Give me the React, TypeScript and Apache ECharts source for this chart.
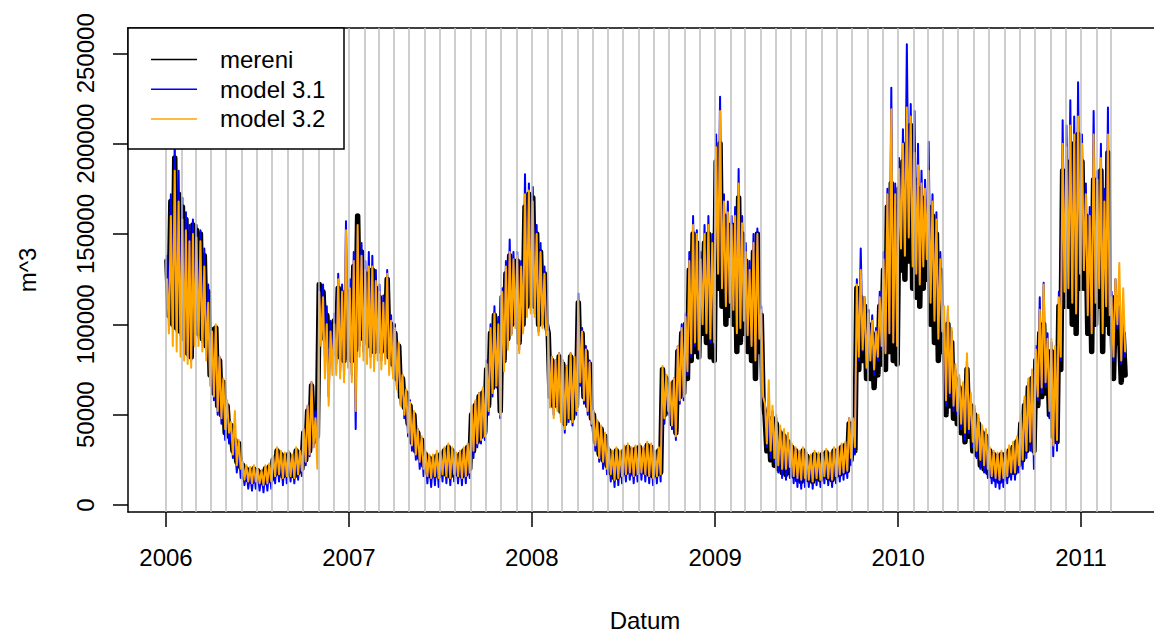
import React, { useEffect, useRef } from "react";
import * as echarts from "echarts";

const FIRST_YEAR = 2006;
const POINTS_PER_MONTH = 8;
const yearTicks = [2006, 2007, 2008, 2009, 2010, 2011];
const valueTicks = [0, 50000, 100000, 150000, 200000, 250000];
const seriesNames = ["mereni", "model 3.1", "model 3.2"];
const seriesColors = ["#000000", "#0000ff", "#ffa500"];

// thousands of m^3, 8 readings per month, Jan 2006 .. Mar 2011
const mereni = [
  135,105,168,100,192,98,172,96,
  165,92,158,84,150,82,155,98,
  152,95,150,92,138,88,118,72,
  97,62,98,55,80,50,68,40,
  55,38,44,30,36,24,34,21,
  22,15,20,14,19,13,20,14,
  19,13,18,12,20,13,21,14,
  25,17,30,18,28,16,27,17,
  28,17,26,16,30,18,28,20,
  40,25,52,30,66,35,50,38,
  122,98,118,92,105,88,100,86,
  102,84,120,82,116,80,118,86,
  118,80,132,86,160,96,140,92,
  128,90,125,88,130,85,120,90,
  115,85,110,86,125,82,100,78,
  95,70,88,60,70,54,62,45,
  55,35,50,30,40,26,36,22,
  28,18,26,16,25,17,27,16,
  28,18,30,17,32,16,30,18,
  27,17,28,16,30,17,32,20,
  50,30,55,35,60,38,62,40,
  75,55,95,65,105,70,100,52,
  115,80,128,92,138,100,135,105,
  135,90,130,100,165,110,172,112,
  170,110,150,100,140,105,128,100,
  95,60,80,55,78,58,82,52,
  78,45,75,50,82,48,80,55,
  112,70,95,60,85,55,78,48,
  50,35,45,28,42,25,38,22,
  30,18,28,15,30,16,28,17,
  30,18,32,19,30,17,31,18,
  32,19,30,18,33,17,32,16,
  28,17,30,18,75,50,70,55,
  65,45,68,40,85,60,95,62,
  100,70,130,80,150,85,145,82,
  130,95,145,90,150,82,140,80,
  190,120,200,110,160,100,155,105,
  150,100,155,85,170,90,150,95,
  135,85,125,80,140,70,150,85,
  105,55,50,30,45,25,48,22,
  45,20,40,18,38,17,35,18,
  32,16,30,14,28,13,30,14,
  27,14,26,13,28,15,27,14,
  28,16,29,15,27,14,30,16,
  30,17,32,18,33,19,45,25,
  45,30,120,75,115,80,110,70,
  100,70,95,65,90,72,110,78,
  130,75,165,85,178,80,165,78,
  175,130,190,125,200,135,210,120,
  180,115,175,110,170,120,165,125,
  165,100,160,90,150,80,130,85,
  95,50,100,55,90,48,70,45,
  65,40,60,35,75,38,55,30,
  50,28,45,22,40,20,38,18,
  30,16,28,14,27,13,28,14,
  28,16,30,18,32,18,35,22,
  45,25,55,30,65,35,70,30,
  80,55,95,60,100,62,85,50,
  85,38,80,35,110,75,185,110,
  180,110,190,100,200,95,205,120,
  190,120,160,95,150,85,180,100,
  170,110,185,85,160,100,195,95,
  110,70,115,90,100,68,95,72,
];

const model31 = [
  138,108,172,98,202,96,185,94,
  170,90,162,82,155,80,158,96,
  155,93,152,90,142,86,122,70,
  95,58,96,50,82,45,66,36,
  56,34,42,26,34,18,32,15,
  22,11,20,9,18,8,20,9,
  19,8,18,7,20,8,21,9,
  26,12,31,13,29,11,28,12,
  29,13,27,12,31,14,29,16,
  42,22,55,27,68,32,52,35,
  120,92,122,82,110,60,102,78,
  106,78,128,74,122,72,157,80,
  125,72,140,42,150,88,145,85,
  135,85,140,82,138,80,130,86,
  122,80,116,82,130,76,105,72,
  100,66,86,56,72,48,60,38,
  58,30,50,25,42,20,36,16,
  29,12,27,10,26,11,28,10,
  29,13,31,12,33,11,31,13,
  28,12,29,11,31,12,33,15,
  52,26,57,32,62,34,64,36,
  80,50,100,60,110,65,104,48,
  120,78,135,88,147,95,140,100,
  140,86,135,96,183,106,178,108,
  176,106,155,96,145,100,132,96,
  98,56,82,50,80,54,84,48,
  80,40,77,46,84,44,82,50,
  117,66,98,56,88,50,80,44,
  52,30,46,24,43,20,39,17,
  31,13,29,10,31,11,29,12,
  31,13,33,14,31,12,32,13,
  33,14,31,13,34,12,33,11,
  29,12,31,13,73,45,72,50,
  67,42,70,36,88,56,100,58,
  106,72,140,82,160,88,152,85,
  140,100,155,96,160,90,150,88,
  205,130,226,122,172,112,168,115,
  160,110,165,96,186,100,160,105,
  145,95,135,90,150,82,153,95,
  110,60,55,32,50,26,52,24,
  48,18,42,15,40,14,38,15,
  33,12,31,10,29,9,31,10,
  28,10,27,9,29,11,28,10,
  29,12,30,11,28,10,31,12,
  31,13,33,14,34,15,48,22,
  48,28,125,80,142,85,115,75,
  108,80,105,72,98,80,118,86,
  140,85,175,95,231,90,178,88,
  192,145,208,140,255,150,222,135,
  218,130,200,125,185,135,180,138,
  201,115,172,105,162,95,140,98,
  102,55,108,60,96,52,75,50,
  70,42,64,36,80,40,58,32,
  53,26,48,20,42,18,40,15,
  31,12,29,10,28,9,29,10,
  29,12,31,14,33,14,37,18,
  47,20,58,26,68,30,72,20,
  88,58,115,62,123,65,95,48,
  90,27,85,30,118,80,213,120,
  210,122,224,115,215,108,234,130,
  205,132,178,108,165,98,218,115,
  185,122,200,98,175,112,220,108,
  118,80,125,98,110,78,105,82,
];

const model32 = [
  125,95,160,88,185,85,168,82,
  158,80,152,78,146,76,150,88,
  148,88,146,85,132,80,112,66,
  96,60,100,52,82,48,70,42,
  58,40,46,28,52,22,36,20,
  24,14,22,13,21,12,22,13,
  20,12,19,11,22,12,23,13,
  27,16,32,17,30,15,29,16,
  30,16,28,15,32,17,30,19,
  42,24,55,28,68,32,48,20,
  118,88,115,70,100,55,96,72,
  100,72,125,70,118,68,152,76,
  120,68,135,52,155,82,138,80,
  130,78,132,76,132,74,124,80,
  118,75,112,78,128,72,102,70,
  98,64,90,55,72,50,64,40,
  57,33,52,28,42,24,38,20,
  30,16,28,15,28,16,30,15,
  30,17,32,16,34,15,32,17,
  29,16,30,15,32,16,34,18,
  55,30,58,34,62,36,65,38,
  78,52,98,62,106,66,100,50,
  118,74,132,86,140,94,136,98,
  138,84,132,95,172,104,174,106,
  168,104,150,94,140,98,128,94,
  96,54,82,48,80,52,84,46,
  80,42,77,48,84,46,82,52,
  113,68,96,58,86,52,79,45,
  52,33,47,26,44,24,40,20,
  32,17,30,14,32,15,30,16,
  33,17,34,18,32,16,33,17,
  34,18,32,17,35,16,34,15,
  30,16,32,17,77,48,72,52,
  68,44,70,38,88,58,98,60,
  104,74,135,84,155,90,150,86,
  136,100,150,95,155,92,145,90,
  198,128,218,120,168,110,162,112,
  155,108,160,95,178,98,156,102,
  140,94,130,88,145,80,150,92,
  108,60,56,34,69,30,55,26,
  50,22,44,20,42,20,40,21,
  34,16,32,15,30,14,32,15,
  29,14,28,13,30,15,29,14,
  30,16,31,15,29,14,32,16,
  32,17,34,18,35,19,48,26,
  48,32,122,82,130,86,115,76,
  106,80,102,75,96,82,115,88,
  136,84,172,95,219,90,172,88,
  186,142,200,138,220,148,215,132,
  195,128,188,122,178,132,175,136,
  185,112,168,102,158,92,136,96,
  110,58,110,62,98,55,78,52,
  72,45,68,40,84,42,62,35,
  55,30,50,25,44,22,42,20,
  32,16,30,15,29,14,30,15,
  31,16,33,18,35,18,38,22,
  50,25,60,30,70,35,75,28,
  86,60,108,65,122,68,92,52,
  92,33,88,36,115,82,200,118,
  198,120,210,112,205,106,215,128,
  200,130,172,105,160,95,205,112,
  180,120,192,95,168,110,205,105,
  115,82,125,100,134,80,120,85,
];

const seriesValues = [mereni, model31, model32];

function monthStart(m: number) {
  return Date.UTC(FIRST_YEAR + Math.floor(m / 12), m % 12, 1);
}

function toPoints(vals: number[]) {
  return vals.map((v, i) => {
    const m = Math.floor(i / POINTS_PER_MONTH);
    const k = i % POINTS_PER_MONTH;
    const s = monthStart(m);
    const e = monthStart(m + 1);
    return [s + ((k + 0.5) / POINTS_PER_MONTH) * (e - s), v * 1000];
  });
}

export default function App() {
  const ref = useRef<HTMLDivElement>(null);
  useEffect(() => {
    if (!ref.current) return;
    const chart = echarts.init(ref.current, undefined, { renderer: "svg" });
    const FONT = "Liberation Sans";

    // plot region geometry (the plot region runs past the right edge of the picture)
    const W = 1154;
    const gLeft = 128, gTop = 28, gWidth = W - gLeft, gHeight = 484;
    const tFirst = Date.UTC(yearTicks[0], 0, 1);
    const tLast = Date.UTC(yearTicks[yearTicks.length - 1], 0, 1);
    const pxPerMs = (1081 - 166) / (tLast - tFirst);
    const xMin = tFirst - (166 - gLeft) / pxPerMs;
    const xMax = xMin + gWidth / pxPerMs;
    const pxPerUnit = (505 - 53.3) / 250000;
    const yMin = -(gTop + gHeight - 505) / pxPerUnit;
    const yMax = 250000 + (53.3 - gTop) / pxPerUnit;

    const nMonths = mereni.length / POINTS_PER_MONTH;
    const monthLines = Array.from({ length: nMonths }, (_, m) => ({ xAxis: monthStart(m) }));
    const yearValues = yearTicks.map((y) => Date.UTC(y, 0, 1));

    const legendRows = seriesNames.map((name, i) => {
      const cy = 59.5 + i * 29.7;
      return [
        { type: "line", z: 101, shape: { x1: 151, y1: cy, x2: 197, y2: cy }, style: { stroke: seriesColors[i], lineWidth: 1.5 } },
        { type: "text", z: 101, x: 220, y: cy, style: { text: name, fill: "#000", font: `24px "${FONT}"`, textVerticalAlign: "middle", verticalAlign: "middle" } },
      ];
    }).flat();

    const boxLine = { show: true, onZero: false, lineStyle: { color: "#000", width: 1.5 } };

    chart.setOption({
      animation: false,
      grid: { left: gLeft, top: gTop, width: gWidth, height: gHeight, show: false },
      xAxis: [
        {
          type: "value",
          min: xMin,
          max: xMax,
          splitLine: { show: false },
          axisLine: boxLine,
          axisTick: { show: true, customValues: yearValues, length: 15, lineStyle: { color: "#000", width: 1.5 } },
          axisLabel: {
            customValues: yearValues,
            formatter: (v: number) => String(new Date(v).getUTCFullYear()),
            margin: 33,
            color: "#000",
            fontSize: 24,
            fontFamily: FONT,
          },
        },
        {
          type: "value",
          position: "top",
          min: xMin,
          max: xMax,
          splitLine: { show: false },
          axisLine: boxLine,
          axisTick: { show: false },
          axisLabel: { show: false },
        },
      ],
      yAxis: {
        type: "value",
        min: yMin,
        max: yMax,
        splitLine: { show: false },
        axisLine: boxLine,
        axisTick: { show: true, customValues: valueTicks, length: 15, lineStyle: { color: "#000", width: 1.5 } },
        axisLabel: {
          customValues: valueTicks,
          formatter: (v: number) => String(v),
          rotate: 90,
          margin: 31,
          color: "#000",
          fontSize: 24,
          fontFamily: FONT,
        },
      },
      series: [
        {
          type: "line",
          name: "grid",
          z: 1,
          silent: true,
          showSymbol: false,
          data: [[xMin, 0]],
          lineStyle: { width: 0 },
          markLine: {
            silent: true,
            symbol: ["none", "none"],
            label: { show: false },
            lineStyle: { color: "#bebebe", width: 1.5, type: "solid" },
            data: monthLines,
          },
        },
        ...seriesValues.map((vals, i) => ({
          type: "line",
          name: seriesNames[i],
          z: 2 + i,
          showSymbol: false,
          silent: true,
          data: toPoints(vals),
          lineStyle: { color: seriesColors[i], width: i === 0 ? 5.5 : 2, cap: "round", join: "round" },
        })),
      ],
      graphic: [
        { type: "rect", z: 100, shape: { x: gLeft, y: gTop, width: 216, height: 121 }, style: { fill: "#fff", stroke: "#000", lineWidth: 1.5 } },
        ...legendRows,
        { type: "text", z: 100, x: 645, y: 620, style: { text: "Datum", fill: "#000", font: `24px "${FONT}"`, textAlign: "center", textVerticalAlign: "middle", align: "center", verticalAlign: "middle" } },
        { type: "text", z: 100, x: 27, y: 270, rotation: Math.PI / 2, style: { text: "m^3", fill: "#000", font: `24px "${FONT}"`, textAlign: "center", textVerticalAlign: "middle", align: "center", verticalAlign: "middle" } },
      ],
    });
    return () => chart.dispose();
  }, []);
  return <div ref={ref} style={{ position: "fixed", left: 0, top: 0, width: 1154, height: 634, background: "#fff" }} />;
}
